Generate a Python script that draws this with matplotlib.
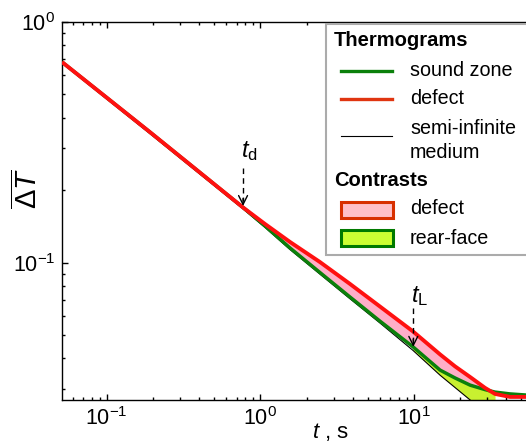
import matplotlib
matplotlib.use("Agg")
import matplotlib.pyplot as plt
from matplotlib.patches import Rectangle
from matplotlib.lines import Line2D
from matplotlib.ticker import FixedLocator, FixedFormatter, LogLocator, NullFormatter

plt.rcParams['font.family'] = ['Liberation Sans', 'DejaVu Sans']
plt.rcParams['mathtext.fontset'] = 'custom'
plt.rcParams['mathtext.rm'] = 'Liberation Sans'
plt.rcParams['mathtext.it'] = 'Liberation Sans:italic'
plt.rcParams['mathtext.bf'] = 'Liberation Sans:bold'

# ---- data ----
t = [0.0512, 0.191, 0.772, 1.073, 1.561, 2.44, 3.835, 6.0, 9.86, 14.78,
     18.5, 23.2, 29.0, 33.7, 42.2, 53.6]
sound = [0.682, 0.349, 0.1696, 0.1421, 0.1151, 0.0911, 0.0720, 0.0572,
         0.0447, 0.0358, 0.0332, 0.0310, 0.0297, 0.0290, 0.0285, 0.0282]
defect = [0.682, 0.349, 0.1696, 0.1448, 0.1219, 0.1007, 0.0816, 0.0658,
          0.0518, 0.0416, 0.0371, 0.0335, 0.0302, 0.0285, 0.0277, 0.0277]
semi_inf = [0.675, 0.344, 0.1672, 0.1401, 0.1134, 0.0897, 0.0708, 0.0562,
            0.0432, 0.0341, 0.0303, 0.0269, 0.0239, 0.0221, 0.0196, 0.0173]
t_d = 0.772
t_L = 9.9
xticks = [0.1, 1, 10]
xticklabels = [r'$10^{-1}$', r'$10^{0}$', r'$10^{1}$']
yticks = [0.1, 1]
yticklabels = [r'$10^{-1}$', r'$10^{0}$']

GREEN = '#0b800b'
RED = '#ff1010'
PINK = '#ffaec8'
YELLOW = '#c8f030'

W, H = 526, 443
fig = plt.figure(figsize=(W / 100, H / 100), dpi=100)
ax = fig.add_axes([62 / W, (H - 400) / H, (W - 62) / W, (400 - 22) / H])
ax.set_xscale('log')
ax.set_yscale('log')
ax.set_xlim(0.0512, 53.6)
ax.set_ylim(0.02689, 1.0)

# contrasts
ax.fill_between(t, sound, defect, where=[d > s for d, s in zip(defect, sound)],
                interpolate=True, color=PINK, lw=0, zorder=1)
i0, i1 = 8, 14
ax.fill_between(t[i0:i1], semi_inf[i0:i1], sound[i0:i1],
                where=[s > m for s, m in zip(sound[i0:i1], semi_inf[i0:i1])],
                interpolate=True, color=YELLOW, lw=0, zorder=1)

# thermograms
ax.plot(t, semi_inf, color='black', lw=0.8, zorder=2)
ax.plot(t, sound, color=GREEN, lw=2.5, zorder=3, solid_capstyle='butt')
ax.plot(t, defect, color=RED, lw=2.8, zorder=4, solid_capstyle='butt')

# axes styling
for s in ['left', 'bottom', 'top']:
    ax.spines[s].set_linewidth(1.0)
ax.spines['right'].set_visible(False)
ax.xaxis.set_major_locator(FixedLocator(xticks))
ax.xaxis.set_major_formatter(FixedFormatter(xticklabels))
ax.yaxis.set_major_locator(FixedLocator(yticks))
ax.yaxis.set_major_formatter(FixedFormatter(yticklabels))
ax.xaxis.set_minor_locator(LogLocator(base=10, subs=range(2, 10)))
ax.yaxis.set_minor_locator(LogLocator(base=10, subs=range(2, 10)))
ax.xaxis.set_minor_formatter(NullFormatter())
ax.yaxis.set_minor_formatter(NullFormatter())
ax.tick_params(which='both', direction='in', top=True, right=False, width=1.0)
ax.tick_params(which='major', length=4, labelsize=15.5, pad=5)
ax.tick_params(which='minor', length=2.5)

fig.text(28 / W, 1 - 189 / H, r'$\overline{\Delta T}$', rotation=90,
         ha='center', va='center', fontsize=21)
fig.text(331 / W, 1 - 432 / H, r'$t$ , s', ha='center', va='center', fontsize=16)

# t_d and t_L markers
ax.plot([t_d, t_d], [0.247, 0.180], color='black', lw=1.0, ls=(0, (4, 3)), zorder=6)
ax.annotate('', xy=(t_d, 0.172), xytext=(t_d, 0.185),
            arrowprops=dict(arrowstyle='->', lw=1.0, color='black',
                            mutation_scale=16, shrinkA=0, shrinkB=0), zorder=6)
ax.text(0.75, 0.275, r'$t_{\mathrm{d}}$', fontsize=17, ha='left', va='baseline', zorder=6)

ax.plot([t_L, t_L], [0.0648, 0.0472], color='black', lw=1.0, ls=(0, (4, 3)), zorder=6)
ax.annotate('', xy=(t_L, 0.0447), xytext=(t_L, 0.0482),
            arrowprops=dict(arrowstyle='->', lw=1.0, color='black',
                            mutation_scale=16, shrinkA=0, shrinkB=0), zorder=6)
ax.text(9.57, 0.0687, r'$t_{\mathrm{L}}$', fontsize=17, ha='left', va='baseline', zorder=6)

# custom legend
def ax_x(px):
    return (px - 62) / 464.0

def ax_y(py):
    return (400 - py) / 378.0

T = ax.transAxes
ax.add_patch(Rectangle((ax_x(326), ax_y(255)), 0.6, ax_y(24) - ax_y(255),
                       transform=T, facecolor='white', edgecolor='#ababab',
                       lw=1.5, zorder=10, clip_on=False))
fs = 14.2
ax.text(ax_x(334), ax_y(40), 'Thermograms', transform=T, fontsize=14.5,
        fontweight='bold', ha='left', va='center', zorder=11)
ax.add_line(Line2D([ax_x(341), ax_x(392)], [ax_y(70.5)] * 2, transform=T,
                   color=GREEN, lw=2.4, zorder=11))
ax.text(ax_x(410), ax_y(70), 'sound zone', transform=T, fontsize=fs,
        ha='left', va='center', zorder=11)
ax.add_line(Line2D([ax_x(341), ax_x(392)], [ax_y(98.5)] * 2, transform=T,
                   color='#e03510', lw=2.4, zorder=11))
ax.text(ax_x(410), ax_y(98), 'defect', transform=T, fontsize=fs,
        ha='left', va='center', zorder=11)
ax.add_line(Line2D([ax_x(341), ax_x(392)], [ax_y(136)] * 2, transform=T,
                   color='black', lw=0.8, zorder=11))
ax.text(ax_x(410), ax_y(128), 'semi-infinite', transform=T, fontsize=fs,
        ha='left', va='center', zorder=11)
ax.text(ax_x(410), ax_y(152), 'medium', transform=T, fontsize=fs,
        ha='left', va='center', zorder=11)
ax.text(ax_x(334), ax_y(181), 'Contrasts', transform=T, fontsize=14.5,
        fontweight='bold', ha='left', va='center', zorder=11)
ax.add_patch(Rectangle((ax_x(341), ax_y(217.5)), ax_x(393) - ax_x(341),
                       ax_y(201.5) - ax_y(217.5), transform=T,
                       facecolor='#ffc0c8', edgecolor='#d83000', lw=2.2, zorder=11))
ax.text(ax_x(410), ax_y(209), 'defect', transform=T, fontsize=fs,
        ha='left', va='center', zorder=11)
ax.add_patch(Rectangle((ax_x(341), ax_y(245.5)), ax_x(393) - ax_x(341),
                       ax_y(229.5) - ax_y(245.5), transform=T,
                       facecolor='#ccff33', edgecolor='#007a00', lw=2.2, zorder=11))
ax.text(ax_x(410), ax_y(238), 'rear-face', transform=T, fontsize=fs,
        ha='left', va='center', zorder=11)

fig.savefig('out.png', dpi=100)
